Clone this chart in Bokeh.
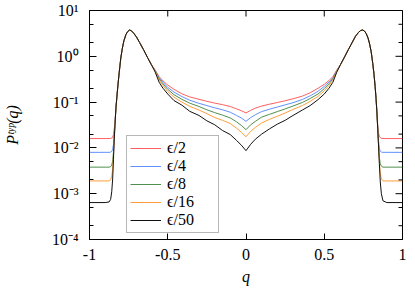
import math
from bokeh.plotting import figure
from bokeh.models import FixedTicker, Legend, LegendItem
from bokeh.embed import file_html
from bokeh.resources import INLINE

# ---- data ----
q = [-1.00, -0.90, -0.875, -0.865, -0.858, -0.852, -0.847, -0.842, -0.837, -0.831,
     -0.825, -0.818, -0.81, -0.80, -0.79, -0.78, -0.767, -0.755, -0.745, -0.732,
     -0.718, -0.70, -0.68, -0.655, -0.63, -0.605, -0.58, -0.555, -0.53, -0.50,
     -0.46, -0.41, -0.36, -0.30, -0.25, -0.20, -0.15, -0.10, -0.06, -0.03,
     0.0,
     0.03, 0.06, 0.10, 0.15, 0.20, 0.25, 0.30, 0.36, 0.41, 0.46,
     0.50, 0.53, 0.555, 0.58, 0.605, 0.63, 0.655, 0.68, 0.70, 0.718,
     0.732, 0.745, 0.755, 0.767, 0.78, 0.79, 0.80, 0.81, 0.818, 0.825,
     0.831, 0.837, 0.842, 0.847, 0.852, 0.858, 0.865, 0.875, 0.90, 1.00]

p_eps2 = [0.0160, 0.0160, 0.0160, 0.0161, 0.0164, 0.0172, 0.0195, 0.026, 0.037, 0.075,
          0.13, 0.24, 0.45, 0.92, 1.5, 2.2, 3.0, 3.5, 3.75, 3.6,
          3.2, 2.65, 2.0, 1.4, 0.95, 0.66, 0.50, 0.36, 0.29, 0.235,
          0.19, 0.152, 0.13, 0.115, 0.104, 0.095, 0.088, 0.080, 0.071, 0.065,
          0.058,
          0.066, 0.074, 0.082, 0.090, 0.098, 0.107, 0.118, 0.135, 0.16, 0.20,
          0.245, 0.295, 0.36, 0.50, 0.67, 0.97, 1.42, 2.05, 2.75, 3.3,
          3.65, 3.75, 3.6, 3.2, 2.5, 1.85, 1.25, 0.7, 0.40, 0.22,
          0.12, 0.058, 0.030, 0.021, 0.0180, 0.0167, 0.0162, 0.0160, 0.0160, 0.0160]

p_eps4 = [0.0080, 0.0080, 0.0080, 0.0081, 0.0084, 0.0092, 0.0118, 0.020, 0.034, 0.075,
          0.13, 0.24, 0.45, 0.92, 1.5, 2.2, 3.0, 3.5, 3.75, 3.6,
          3.2, 2.65, 2.0, 1.4, 0.95, 0.66, 0.49, 0.34, 0.27, 0.21,
          0.165, 0.132, 0.11, 0.094, 0.084, 0.075, 0.068, 0.060, 0.051, 0.045,
          0.038,
          0.046, 0.053, 0.062, 0.070, 0.078, 0.087, 0.097, 0.114, 0.137, 0.172,
          0.22, 0.272, 0.34, 0.49, 0.67, 0.97, 1.42, 2.05, 2.75, 3.3,
          3.65, 3.75, 3.6, 3.2, 2.5, 1.85, 1.25, 0.7, 0.40, 0.22,
          0.12, 0.056, 0.026, 0.014, 0.0096, 0.0085, 0.0081, 0.0080, 0.0080, 0.0080]

p_eps8 = [0.0038, 0.0038, 0.0038, 0.0039, 0.0042, 0.0052, 0.0080, 0.017, 0.033, 0.075,
          0.13, 0.24, 0.45, 0.92, 1.5, 2.2, 3.0, 3.5, 3.75, 3.6,
          3.2, 2.65, 2.0, 1.4, 0.95, 0.66, 0.48, 0.32, 0.25, 0.19,
          0.145, 0.115, 0.095, 0.080, 0.068, 0.059, 0.052, 0.045, 0.037, 0.031,
          0.025,
          0.032, 0.038, 0.047, 0.054, 0.062, 0.071, 0.082, 0.098, 0.12, 0.15,
          0.197, 0.25, 0.32, 0.48, 0.67, 0.97, 1.42, 2.05, 2.75, 3.3,
          3.65, 3.75, 3.6, 3.2, 2.5, 1.85, 1.25, 0.7, 0.40, 0.22,
          0.12, 0.055, 0.025, 0.012, 0.0062, 0.0045, 0.0040, 0.0038, 0.0038, 0.0038]

p_eps16 = [0.0019, 0.0019, 0.0019, 0.0020, 0.0024, 0.0034, 0.0065, 0.016, 0.032, 0.075,
           0.13, 0.24, 0.45, 0.92, 1.5, 2.2, 3.0, 3.5, 3.75, 3.6,
           3.2, 2.65, 2.0, 1.4, 0.95, 0.66, 0.47, 0.30, 0.23, 0.17,
           0.128, 0.10, 0.081, 0.067, 0.056, 0.046, 0.040, 0.034, 0.027, 0.022,
           0.0175,
           0.023, 0.028, 0.035, 0.042, 0.049, 0.058, 0.069, 0.084, 0.104, 0.133,
           0.176, 0.23, 0.30, 0.47, 0.67, 0.97, 1.42, 2.05, 2.75, 3.3,
           3.65, 3.75, 3.6, 3.2, 2.5, 1.85, 1.25, 0.7, 0.40, 0.22,
           0.12, 0.055, 0.025, 0.011, 0.0050, 0.0028, 0.0021, 0.0019, 0.0019, 0.0019]

p_eps50 = [0.00064, 0.00064, 0.00066, 0.00075, 0.0011, 0.0021, 0.0055, 0.015, 0.032, 0.075,
           0.13, 0.24, 0.45, 0.92, 1.5, 2.2, 3.0, 3.5, 3.75, 3.6,
           3.2, 2.65, 2.0, 1.4, 0.95, 0.66, 0.45, 0.27, 0.20, 0.15,
           0.108, 0.086, 0.063, 0.051, 0.039, 0.032, 0.024, 0.0195, 0.0145, 0.0115,
           0.0087,
           0.012, 0.0155, 0.020, 0.026, 0.033, 0.040, 0.051, 0.067, 0.084, 0.113,
           0.15, 0.20, 0.27, 0.45, 0.67, 0.97, 1.42, 2.05, 2.75, 3.3,
           3.65, 3.75, 3.6, 3.2, 2.5, 1.85, 1.25, 0.7, 0.40, 0.22,
           0.12, 0.055, 0.025, 0.011, 0.0046, 0.0018, 0.0010, 0.00070, 0.00064, 0.00064]

series_values = [p_eps2, p_eps4, p_eps8, p_eps16, p_eps50]
series_labels = ["\u03f5/2", "\u03f5/4", "\u03f5/8", "\u03f5/16", "\u03f5/50"]
series_colors = ["#ff5f5f", "#6090ff", "#4f8f4f", "#ff9d3c", "#111111"]

x_ticks = [-1, -0.5, 0, 0.5, 1]
x_tick_labels = ["-1", "-0.5", "0", "0.5", "1"]
y_ticks = [1e-4, 1e-3, 1e-2, 1e-1, 1e0, 1e1]
y_tick_labels = ["10\u207b\u2074", "10\u207b\u00b3", "10\u207b\u00b2", "10\u207b\u00b9", "10\u2070", "10\u00b9"]
y_minor_ticks = [2e-4, 5e-4, 2e-3, 5e-3, 2e-2, 5e-2, 2e-1, 5e-1, 2e0, 5e0]

X_MIN, X_MAX = -1, 1
Y_MIN, Y_MAX = 1e-4, 1e1

FONT = "Liberation Serif"

p = figure(width=407, height=289, y_axis_type="log", title=None,
           x_range=(X_MIN, X_MAX), y_range=(Y_MIN, Y_MAX),
           output_backend="svg", toolbar_location=None,
           min_border_left=88, min_border_right=5, min_border_top=10, min_border_bottom=50)
p.grid.visible = False
p.outline_line_color = "black"
p.outline_line_width = 1
p.background_fill_color = "white"
p.border_fill_color = "white"

items = []
for vals, lab, col in zip(series_values, series_labels, series_colors):
    r = p.line(q, vals, line_color=col, line_width=1)
    items.append(LegendItem(label=lab, renderers=[r]))

def style_axis(ax):
    ax.axis_line_color = "black"
    ax.major_tick_line_color = "black"
    ax.minor_tick_line_color = "black"
    ax.major_tick_in = 7
    ax.major_tick_out = 0
    ax.minor_tick_in = 4
    ax.minor_tick_out = 0
    ax.major_label_text_font = FONT
    ax.major_label_text_font_size = "16px"
    ax.major_label_text_color = "black"
    ax.axis_label_text_font = FONT
    ax.axis_label_text_font_size = "16px"
    ax.axis_label_text_font_style = "italic"
    ax.axis_label_text_color = "black"

# bottom x axis
xa = p.xaxis[0]
xa.ticker = FixedTicker(ticks=x_ticks)
xa.major_label_overrides = dict(zip(x_ticks, x_tick_labels))
style_axis(xa)
xa.major_tick_in = 6
xa.minor_tick_line_color = None
xa.axis_label = "q"
xa.major_label_standoff = 9
xa.axis_label_standoff = 5

# left y axis
ya = p.yaxis[0]
ya.ticker = FixedTicker(ticks=y_ticks, minor_ticks=y_minor_ticks)
ya.major_label_overrides = dict(zip(y_ticks, y_tick_labels))
style_axis(ya)
ya.axis_label = "P\u1d57\u02b8\u1d56(q)"
ya.major_label_standoff = 11
ya.axis_label_standoff = 28

# mirrored ticks on top and right edges (markers centred on the frame edge, clipped to the frame)
p.scatter(x_ticks, [Y_MAX] * len(x_ticks), marker="dash", angle=math.pi / 2,
          size=12, line_color="black", line_width=1)
p.scatter([X_MAX] * len(y_ticks), y_ticks, marker="dash",
          size=14, line_color="black", line_width=1)
p.scatter([X_MAX] * len(y_minor_ticks), y_minor_ticks, marker="dash",
          size=8, line_color="black", line_width=1)

legend = Legend(items=items, location=(37, 6))
legend.label_text_font = FONT
legend.label_text_font_size = "16px"
legend.label_text_color = "black"
legend.label_height = 16
legend.glyph_height = 16
legend.glyph_width = 31
legend.label_width = 48
legend.label_standoff = 6
legend.spacing = 0
legend.padding = 3
legend.margin = 0
legend.border_line_color = "#707070"
legend.border_line_width = 1
legend.background_fill_color = "white"
legend.background_fill_alpha = 1
p.add_layout(legend)

open("out.html", "w").write(file_html(p, INLINE))
